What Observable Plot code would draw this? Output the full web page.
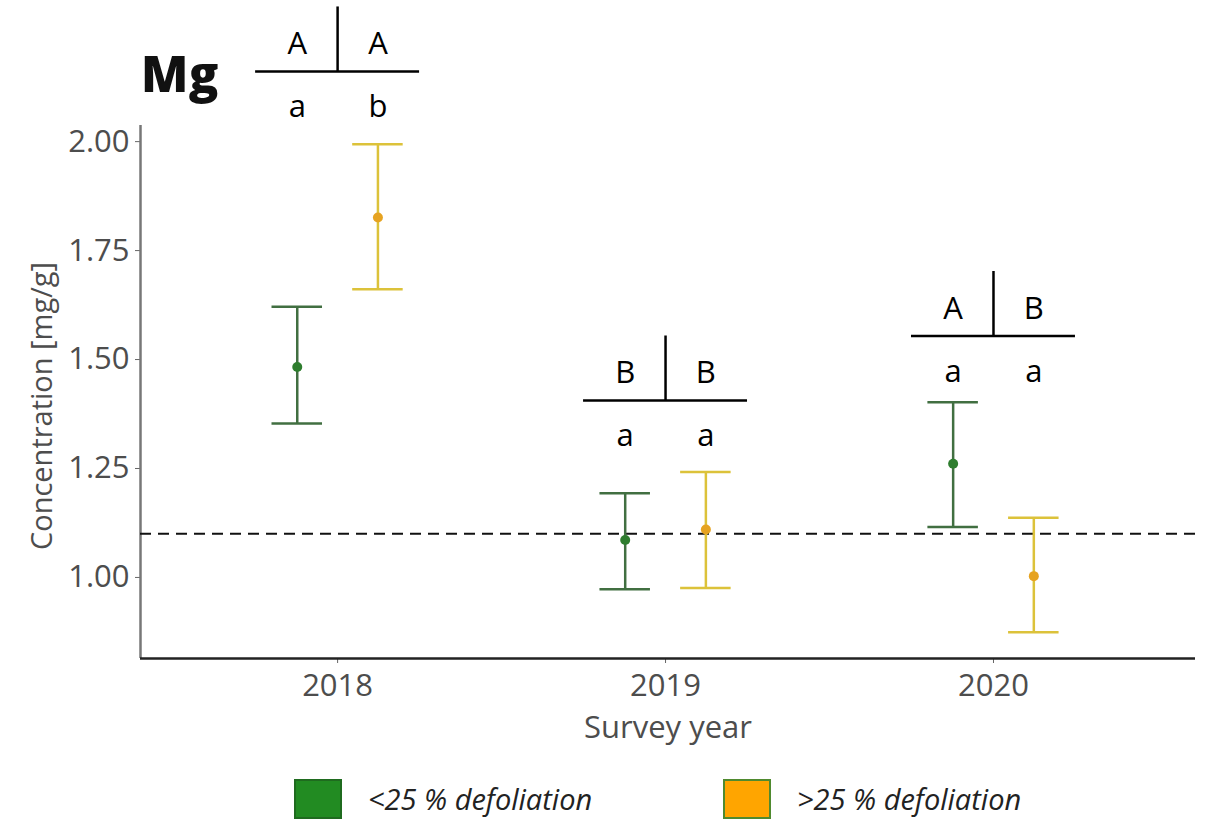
<!DOCTYPE html>
<html>
<head>
<meta charset="utf-8">
<script src="https://cdn.jsdelivr.net/npm/d3@7"></script>
<script src="https://cdn.jsdelivr.net/npm/@observablehq/plot@0.6"></script>
<style>
  body { margin: 0; background: #fff; }
  #wrap { position: relative; width: 1209px; height: 821px; font-family: "Open Sans", sans-serif; overflow: hidden; }
  #chart { position: absolute; left: 0; top: 0; }
  #title { position: absolute; left: 141px; top: 49px; font-size: 49px; font-weight: 800; line-height: 1; color: #111; letter-spacing: 0.5px; }
  .sw { position: absolute; top: 779px; width: 44px; height: 36px; border: 2px solid; }
  .lt { position: absolute; top: 779px; height: 40px; line-height: 40px; font-size: 29px; font-style: italic; color: #222; white-space: nowrap; }
</style>
</head>
<body>
<div id="wrap">
  <div id="chart"></div>
  <div id="title">Mg</div>
  <div id="legend"></div>
</div>
<script>
// ---- data ----
const years = [2018, 2019, 2020];
const groups = ["<25 % defoliation", ">25 % defoliation"];
const ltMean  = [1.483, 1.086, 1.261];
const ltLower = [1.353, 0.973, 1.116];
const ltUpper = [1.621, 1.193, 1.402];
const gtMean  = [1.826, 1.110, 1.003];
const gtLower = [1.661, 0.976, 0.874];
const gtUpper = [1.994, 1.242, 1.137];
const threshold = [1.1];
const yTicks = [1.00, 1.25, 1.50, 1.75, 2.00];
const annotLineY = [2.161, 1.406, 1.554];
const upperLetters = [["A", "A"], ["B", "B"], ["A", "B"]];
const lowerLetters = [["a", "b"], ["a", "a"], ["a", "a"]];

const pointColors = ["#2e7d2e", "#e6a321"];
const barColors = ["#416f41", "#dcc23a"];
const swatchFill = ["#228b22", "#ffa500"];
const swatchStroke = ["#1f6b1f", "#4f8a2f"];

// layout constants (in data units)
const xDomain = [2017.399, 2020.616];
const yDomain = [0.814, 2.037];
const dodge = 0.123;
const cap = 0.077;
const annotHalf = 0.25;
const annotBar = 0.148;

const rows = years.flatMap((yr, i) => [
  {year: yr, g: 0, group: groups[0], mean: ltMean[i], lower: ltLower[i], upper: ltUpper[i], pos: yr - dodge},
  {year: yr, g: 1, group: groups[1], mean: gtMean[i], lower: gtLower[i], upper: gtUpper[i], pos: yr + dodge}
]);
const annots = years.map((yr, i) => ({year: yr, ly: annotLineY[i]}));
const letters = years.flatMap((yr, i) => [0, 1].map(k => ({
  pos: yr + (k ? dodge : -dodge), ly: annotLineY[i], up: upperLetters[i][k], lo: lowerLetters[i][k]
})));

const W = 1209, H = 770;
const chart = Plot.plot({
  width: W, height: H,
  marginLeft: 140, marginRight: 14, marginTop: 125, marginBottom: H - 658,
  style: {fontFamily: "Open Sans, sans-serif", fontSize: "31px", color: "#4d4d4d", background: "transparent"},
  x: {type: "linear", domain: xDomain, axis: null},
  y: {type: "linear", domain: yDomain, axis: null},
  marks: [
    Plot.axisY({ticks: yTicks, tickFormat: d3.format(".2f"), tickSize: 5, tickPadding: 6, stroke: "#666", fill: "#4d4d4d", label: null, fontSize: 31}),
    Plot.axisX({ticks: years, tickFormat: d3.format("d"), tickSize: 5, tickPadding: 10, stroke: "#666", fill: "#4d4d4d", label: null, fontSize: 31}),
    Plot.ruleX([xDomain[0]], {stroke: "#777", strokeWidth: 2.5}),
    Plot.ruleY([yDomain[0]], {stroke: "#222", strokeWidth: 2.5}),
    Plot.ruleY(threshold, {stroke: "#111", strokeWidth: 2, strokeDasharray: "11,7"}),
    Plot.ruleX(rows, {x: "pos", y1: "lower", y2: "upper", stroke: d => barColors[d.g], strokeWidth: 2.5}),
    Plot.ruleY(rows, {y: "upper", x1: d => d.pos - cap, x2: d => d.pos + cap, stroke: d => barColors[d.g], strokeWidth: 2.5}),
    Plot.ruleY(rows, {y: "lower", x1: d => d.pos - cap, x2: d => d.pos + cap, stroke: d => barColors[d.g], strokeWidth: 2.5}),
    Plot.dot(rows, {x: "pos", y: "mean", r: 5, fill: d => pointColors[d.g], stroke: "none"}),
    // significance annotations
    Plot.ruleY(annots, {y: "ly", x1: d => d.year - annotHalf, x2: d => d.year + annotHalf, stroke: "#000", strokeWidth: 2.5}),
    Plot.ruleX(annots, {x: "year", y1: "ly", y2: d => d.ly + annotBar, stroke: "#000", strokeWidth: 2.5}),
    Plot.text(letters, {x: "pos", y: "ly", text: "up", lineAnchor: "bottom", dy: -17, fontSize: 31, fill: "#000"}),
    Plot.text(letters, {x: "pos", y: "ly", text: "lo", lineAnchor: "bottom", dy: 46, fontSize: 31, fill: "#000"}),
    // axis titles
    Plot.text(["Concentration [mg/g]"], {frameAnchor: "left", textAnchor: "middle", rotate: -90, dx: -98, dy: 14, fontSize: 29, fill: "#4d4d4d"}),
    Plot.text(["Survey year"], {frameAnchor: "bottom", lineAnchor: "middle", dy: 70, fontSize: 31, fill: "#4d4d4d"})
  ]
});
document.getElementById("chart").appendChild(chart);

// legend
const legend = document.getElementById("legend");
const swLeft = [294, 723], txLeft = [368, 797];
groups.forEach((g, i) => {
  const s = document.createElement("div");
  s.className = "sw";
  s.style.left = swLeft[i] + "px";
  s.style.background = swatchFill[i];
  s.style.borderColor = swatchStroke[i];
  legend.appendChild(s);
  const t = document.createElement("div");
  t.className = "lt";
  t.style.left = txLeft[i] + "px";
  t.textContent = g;
  legend.appendChild(t);
});
</script>
</body>
</html>
